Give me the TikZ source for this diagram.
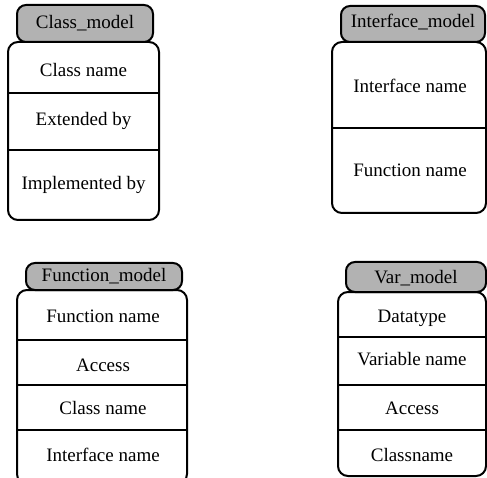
\documentclass[tikz,border=0pt]{standalone}
\usepackage{fontspec}
\setmainfont{Liberation Serif}
\begin{document}
\begin{tikzpicture}[x=1pt,y=-1pt,
  hdr/.style={draw=black,line width=2pt,fill=gray!60,rounded corners=9pt,inner sep=0pt},
  bodybox/.style={draw=black,line width=2pt,fill=white,rounded corners=10pt,inner sep=0pt},
  lbl/.style={font=\fontsize{19}{22}\selectfont,inner sep=0pt},
  divl/.style={line width=2pt}]
\clip (0,0) rectangle (487,478);
\fill[white] (0,0) rectangle (487,478);
% Class_model
\draw[bodybox] (8,42) rectangle (159,220);
\draw[hdr] (17,5) rectangle (153,42);
\node[lbl] (cmh) at (85,23) {Class\_model};
\draw[divl] (8,93) -- (159,93);
\draw[divl] (8,150) -- (159,150);
\node[lbl] (cm1) at (83.5,70) {Class name};
\node[lbl] (cm2) at (83.5,121) {Extended by};
\node[lbl] (cm3) at (83.5,185) {Implemented by};
% Interface_model
\draw[bodybox] (332,42) rectangle (486,213);
\draw[hdr] (341,6) rectangle (485,42);
\node[lbl] (imh) at (413,22) {Interface\_model};
\draw[divl] (332,128) -- (486,128);
\node[lbl] (im1) at (410,86) {Interface name};
\node[lbl] (im2) at (410,170) {Function name};
% Function_model
\draw[bodybox] (17,290) rectangle (187,484);
\draw[hdr] (26,263) rectangle (182,290);
\node[lbl] (fmh) at (104,276) {Function\_model};
\draw[divl] (17,340) -- (187,340);
\draw[divl] (17,385) -- (187,385);
\draw[divl] (17,430) -- (187,430);
\node[lbl] (fm1) at (103,316) {Function name};
\node[lbl] (fm2) at (103,365) {Access};
\node[lbl] (fm3) at (103,408) {Class name};
\node[lbl] (fm4) at (103,455) {Interface name};
% Var_model
\draw[bodybox] (338,292) rectangle (486,476);
\draw[hdr] (346,262) rectangle (486,292);
\node[lbl] (vmh) at (416,278) {Var\_model};
\draw[divl] (338,337) -- (486,337);
\draw[divl] (338,385) -- (486,385);
\draw[divl] (338,430) -- (486,430);
\node[lbl] (vm1) at (412,318) {Datatype};
\node[lbl] (vm2) at (412,359) {Variable name};
\node[lbl] (vm3) at (412,408) {Access};
\node[lbl] (vm4) at (412,455) {Classname};
\end{tikzpicture}
\end{document}
